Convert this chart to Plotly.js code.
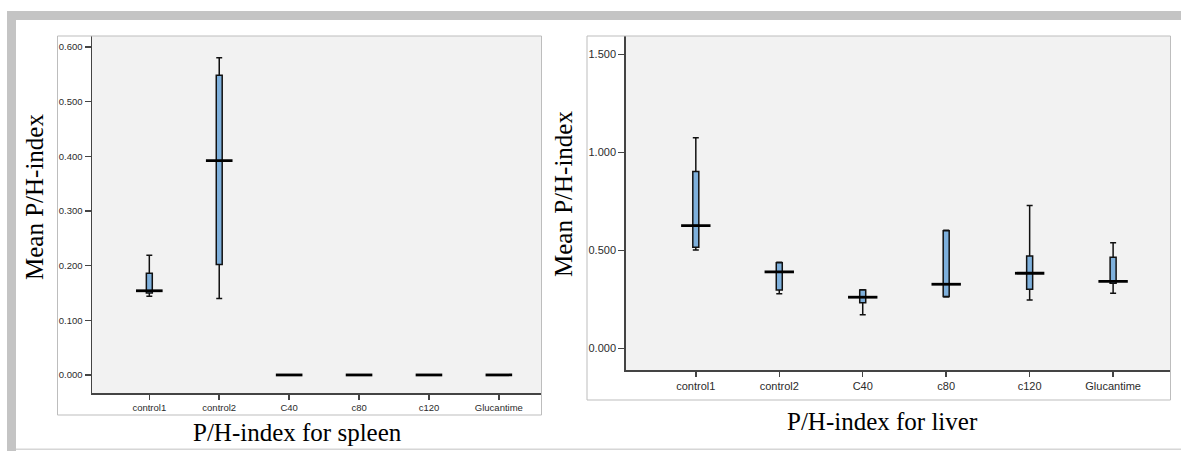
<!DOCTYPE html>
<html>
<head>
<meta charset="utf-8">
<script src="https://cdn.plot.ly/plotly-3.0.1.min.js"></script>
<style>
  html, body { margin: 0; padding: 0; background: #ffffff; }
  #chart { width: 1181px; height: 451px; }
</style>
</head>
<body>
<div id="chart"></div>
<script>
// ---- Data ----
const categories = ['control1', 'control2', 'C40', 'c80', 'c120', 'Glucantime'];

// Spleen
const spleenLower  = [0.144, 0.140, 0, 0, 0, 0];
const spleenQ1     = [0.150, 0.202, 0, 0, 0, 0];
const spleenMedian = [0.154, 0.392, 0, 0, 0, 0];
const spleenQ3     = [0.186, 0.548, 0, 0, 0, 0];
const spleenUpper  = [0.219, 0.580, 0, 0, 0, 0];

// Liver
const liverLower  = [0.503, 0.279, 0.172, 0.263, 0.248, 0.282];
const liverQ1     = [0.517, 0.299, 0.234, 0.265, 0.303, 0.333];
const liverMedian = [0.627, 0.391, 0.262, 0.328, 0.384, 0.343];
const liverQ3     = [0.902, 0.438, 0.299, 0.601, 0.472, 0.466];
const liverUpper  = [1.075, 0.440, 0.300, 0.603, 0.729, 0.539];

const spleenTicks = [0, 0.1, 0.2, 0.3, 0.4, 0.5, 0.6];
const liverTicks  = [0, 0.5, 1.0, 1.5];

const yTitle = 'Mean P/H-index';
const spleenTitle = 'P/H-index for spleen';
const liverTitle = 'P/H-index for liver';

// ---- Styling ----
const W = 1181, H = 451;
const px = v => v / W;
const py = v => 1 - v / H;
const boxFill = '#7eb0dc';
const serif = 'Liberation Serif, Times New Roman, serif';
const sans = 'Liberation Sans, Arial, sans-serif';

function boxTrace(q1, med, q3, lo, hi, xa, ya, w) {
  return {
    type: 'box', x: categories, q1: q1, median: med, q3: q3,
    lowerfence: lo, upperfence: hi,
    xaxis: xa, yaxis: ya, width: w, whiskerwidth: 1,
    fillcolor: boxFill, line: { color: '#111111', width: 1.5 },
    boxpoints: false, showlegend: false, hoverinfo: 'skip'
  };
}
function medianTrace(med, xa, ya, size) {
  return {
    type: 'scatter', mode: 'markers', x: categories, y: med,
    xaxis: xa, yaxis: ya,
    marker: { symbol: 'line-ew', size: size, line: { color: '#000000', width: 2.8 } },
    showlegend: false, hoverinfo: 'skip'
  };
}

const data = [
  boxTrace(spleenQ1, spleenMedian, spleenQ3, spleenLower, spleenUpper, 'x', 'y', 0.085),
  medianTrace(spleenMedian, 'x', 'y', 19),
  boxTrace(liverQ1, liverMedian, liverQ3, liverLower, liverUpper, 'x2', 'y2', 0.072),
  medianTrace(liverMedian, 'x2', 'y2', 21)
];

function xAxis(domain, range, fsize, anchor) {
  return {
    domain: domain, range: range, type: 'category', anchor: anchor,
    showline: true, linecolor: '#444444', linewidth: 1.5,
    ticks: 'outside', ticklen: 5, tickcolor: '#444444', tickwidth: 1.5,
    showgrid: false, zeroline: false, fixedrange: true,
    tickfont: { family: sans, size: fsize, color: '#2b2b2b' }
  };
}
function yAxis(domain, range, tickvals, fsize, anchor) {
  return {
    domain: domain, range: range, anchor: anchor,
    tickmode: 'array', tickvals: tickvals, tickformat: '.3f',
    showline: true, linecolor: '#444444', linewidth: 1.5,
    ticks: 'outside', ticklen: 6, tickcolor: '#444444', tickwidth: 1.5,
    showgrid: false, zeroline: false, fixedrange: true,
    tickfont: { family: sans, size: fsize, color: '#2b2b2b' }
  };
}

const frame = '#c4c4c4';
const layout = {
  width: W, height: H,
  margin: { l: 0, r: 0, t: 0, b: 0 },
  paper_bgcolor: '#ffffff', plot_bgcolor: '#f2f2f2',
  showlegend: false, hovermode: false,
  xaxis: xAxis([px(92), px(541.5)], [-0.82, 5.61], 9.5, 'y'),
  yaxis: yAxis([py(393), py(36)], [-0.033, 0.620], spleenTicks, 9.5, 'x'),
  xaxis2: xAxis([px(625.7), px(1170.7)], [-0.84, 5.69], 11, 'y2'),
  yaxis2: yAxis([py(370), py(36)], [-0.109, 1.593], liverTicks, 11, 'x2'),
  shapes: [
    // outer gray frame
    { type: 'rect', xref: 'paper', yref: 'paper', x0: px(7), x1: px(1181), y0: py(20), y1: py(11), fillcolor: frame, line: { width: 0 }, layer: 'below' },
    { type: 'rect', xref: 'paper', yref: 'paper', x0: px(7), x1: px(16), y0: py(451), y1: py(11), fillcolor: frame, line: { width: 0 }, layer: 'below' },
    { type: 'rect', xref: 'paper', yref: 'paper', x0: px(16), x1: px(1181), y0: py(450), y1: py(448.5), fillcolor: '#d6d6d6', line: { width: 0 }, layer: 'below' },
    // chart boxes
    { type: 'rect', xref: 'paper', yref: 'paper', x0: px(57.5), x1: px(541.5), y0: py(415), y1: py(36), line: { color: '#bdbdbd', width: 1 }, layer: 'above' },
    { type: 'rect', xref: 'paper', yref: 'paper', x0: px(587), x1: px(1170.5), y0: py(400), y1: py(36), line: { color: '#bdbdbd', width: 1 }, layer: 'above' }
  ],
  annotations: [
    { text: yTitle, xref: 'paper', yref: 'paper', x: px(35), y: py(197), textangle: -90, showarrow: false, xanchor: 'center', yanchor: 'middle', font: { family: serif, size: 25, color: '#000000' } },
    { text: yTitle, xref: 'paper', yref: 'paper', x: px(563), y: py(194), textangle: -90, showarrow: false, xanchor: 'center', yanchor: 'middle', font: { family: serif, size: 25, color: '#000000' } },
    { text: spleenTitle, xref: 'paper', yref: 'paper', x: px(297.5), y: py(432), showarrow: false, xanchor: 'center', yanchor: 'middle', font: { family: serif, size: 25, color: '#000000' } },
    { text: liverTitle, xref: 'paper', yref: 'paper', x: px(882), y: py(421), showarrow: false, xanchor: 'center', yanchor: 'middle', font: { family: serif, size: 25, color: '#000000' } }
  ]
};

Plotly.newPlot('chart', data, layout, { staticPlot: true, displayModeBar: false });
</script>
</body>
</html>
